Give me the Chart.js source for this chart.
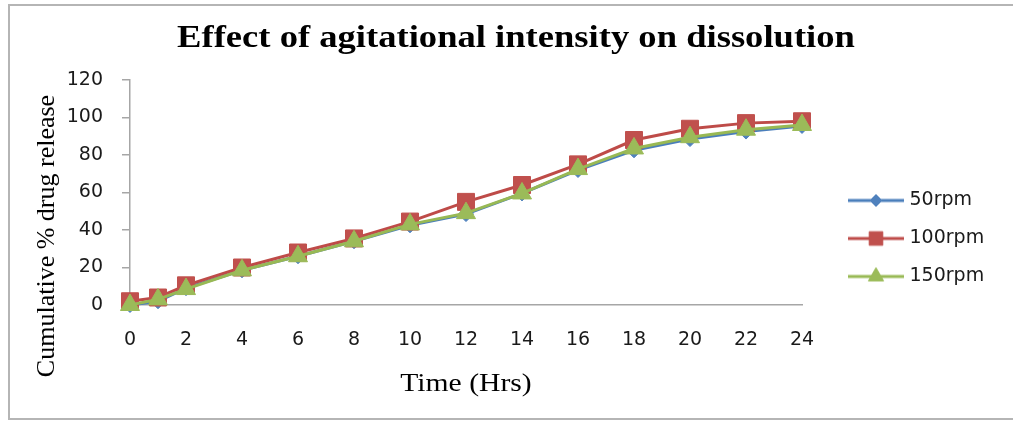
<!DOCTYPE html>
<html>
<head>
<meta charset="utf-8">
<script src="https://cdn.jsdelivr.net/npm/chart.js@4.4.1/dist/chart.umd.min.js"></script>
<style>
  html, body { margin: 0; padding: 0; background: #fff; }
  #wrap { position: relative; width: 1013px; height: 421px; overflow: hidden; }
  #frame { position: absolute; left: 8px; top: 4px; width: 1030px; height: 416px;
           border: 2px solid #b5b5b5; box-sizing: border-box; }
  #myChart { position: absolute; left: 0; top: 0; }
</style>
</head>
<body>
<div id="wrap">
  <div id="frame"></div>
  <canvas id="myChart" width="1013" height="421"></canvas>
</div>
<script>
  // data
  var hours  = [0, 1, 2, 4, 6, 8, 10, 12, 14, 16, 18, 20, 22, 24];
  var rpm50  = [0, 2, 9, 18.5, 26, 34, 42.5, 48.5, 59.5, 72, 82.5, 88.5, 92.5, 95.5];
  var rpm100 = [2, 4, 10.5, 20, 28, 35.5, 44.5, 55, 64, 75, 88, 94, 97, 98];
  var rpm150 = [0, 3, 8.5, 18.5, 26, 34, 43, 49, 59.5, 72.5, 83.5, 89.5, 93.5, 96];
  var seriesNames = ['50rpm', '100rpm', '150rpm'];
  var xTicks = [0, 2, 4, 6, 8, 10, 12, 14, 16, 18, 20, 22, 24];
  var yTicks = [0, 20, 40, 60, 80, 100, 120];

  var chartTitle = 'Effect of agitational intensity on dissolution';
  var xTitle = 'Time (Hrs)';
  var yTitle = 'Cumulative % drug release';

  var lineColors   = ['#4a7ebb', '#be4b48', '#98b954'];
  var markerColors = ['#4f81bd', '#c0504d', '#9bbb59'];
  var markerStyles = ['rectRot', 'rect', 'triangle'];
  var markerSizes  = [7.5, 12, 11];

  function toPoints(values) {
    return values.map(function(v, i) { return {x: hours[i], y: v}; });
  }

  // little line + marker pictures for the legend
  function legendIcon(i) {
    var c = document.createElement('canvas');
    c.width = 56;
    c.height = 24;
    var g = c.getContext('2d');
    g.strokeStyle = lineColors[i];
    g.lineWidth = 3;
    g.beginPath();
    g.moveTo(0, 12);
    g.lineTo(56, 12);
    g.stroke();
    g.fillStyle = markerColors[i];
    g.strokeStyle = markerColors[i];
    g.lineWidth = 1;
    Chart.helpers.drawPoint(g, {
      pointStyle: markerStyles[i],
      radius: markerSizes[i] * 0.8,
      rotation: 0,
      borderWidth: 1
    }, 28, 12);
    return c;
  }

  // titles are stretched sideways in the picture, so they are drawn here
  var titlesPlugin = {
    id: 'titles',
    afterDraw: function(chart) {
      var ctx = chart.ctx;
      var area = chart.chartArea;
      ctx.save();
      ctx.fillStyle = '#000';
      ctx.textAlign = 'center';
      ctx.textBaseline = 'alphabetic';

      ctx.save();
      ctx.font = 'bold 31px "Liberation Serif"';
      ctx.translate(516, 47);
      ctx.scale(1.18, 1);
      ctx.fillText(chartTitle, 0, 0);
      ctx.restore();

      ctx.save();
      ctx.font = '26px "Liberation Serif"';
      ctx.translate((area.left + area.right) / 2, 391);
      ctx.scale(1.14, 1);
      ctx.fillText(xTitle, 0, 0);
      ctx.restore();

      ctx.save();
      ctx.font = '26px "Liberation Serif"';
      ctx.textBaseline = 'middle';
      ctx.translate(47, 236);
      ctx.rotate(-Math.PI / 2);
      ctx.fillText(yTitle, 0, 0);
      ctx.restore();

      ctx.restore();
    }
  };

  var series = [rpm50, rpm100, rpm150];
  // green is drawn on top, then red, then blue
  var drawOrder = [2, 1, 0];

  var datasets = series.map(function(values, i) {
    return {
      label: seriesNames[i],
      data: toPoints(values),
      borderColor: lineColors[i],
      backgroundColor: markerColors[i],
      borderWidth: 3,
      pointStyle: markerStyles[i],
      pointRadius: markerSizes[i],
      pointBackgroundColor: markerColors[i],
      pointBorderColor: markerColors[i],
      pointBorderWidth: 1,
      tension: 0,
      clip: false,
      order: drawOrder[i]
    };
  });

  var ctx = document.getElementById('myChart');

  var myChart = new Chart(ctx, {
    type: 'line',
    data: { datasets: datasets },
    plugins: [titlesPlugin],
    options: {
      responsive: false,
      animation: false,
      events: [],
      layout: { padding: { top: 80, right: 30, bottom: 0, left: 0 } },
      plugins: {
        title: { display: false },
        tooltip: { enabled: false },
        legend: {
          position: 'right',
          align: 'end',
          fullSize: false,
          maxWidth: 150,
          labels: {
            usePointStyle: true,
            pointStyleWidth: 48,
            padding: 19,
            color: '#1a1a1a',
            font: { family: 'DejaVu Sans', size: 19 },
            generateLabels: function() {
              return seriesNames.map(function(name, i) {
                return {
                  text: name,
                  pointStyle: legendIcon(i),
                  datasetIndex: i,
                  hidden: false,
                  fontColor: '#1a1a1a',
                  fillStyle: 'transparent',
                  strokeStyle: 'transparent',
                  lineWidth: 0
                };
              });
            }
          }
        }
      },
      scales: {
        x: {
          type: 'linear',
          min: 0,
          max: 24,
          grid: { display: false, drawTicks: false },
          border: { display: true, color: '#a6a6a6', width: 1.5 },
          ticks: {
            padding: 24,
            color: '#1a1a1a',
            font: { family: 'DejaVu Sans', size: 19 }
          },
          afterBuildTicks: function(axis) {
            axis.ticks = xTicks.map(function(v) { return {value: v}; });
          },
          afterFit: function(axis) { axis.height = 116; }
        },
        y: {
          type: 'linear',
          min: 0,
          max: 120,
          grid: { drawOnChartArea: false, tickLength: 8, color: '#a6a6a6', lineWidth: 1.5 },
          border: { display: true, color: '#a6a6a6', width: 1.5 },
          ticks: {
            padding: 19,
            color: '#1a1a1a',
            font: { family: 'DejaVu Sans', size: 19 }
          },
          afterBuildTicks: function(axis) {
            axis.ticks = yTicks.map(function(v) { return {value: v}; });
          },
          afterFit: function(axis) { axis.width = 130; }
        },
        // empty space between the plot and the legend
        gap: {
          type: 'linear',
          position: 'right',
          display: true,
          grid: { display: false, drawTicks: false },
          border: { display: false },
          ticks: { display: false },
          afterFit: function(axis) { axis.width = 31; }
        }
      }
    }
  });
</script>
</body>
</html>
